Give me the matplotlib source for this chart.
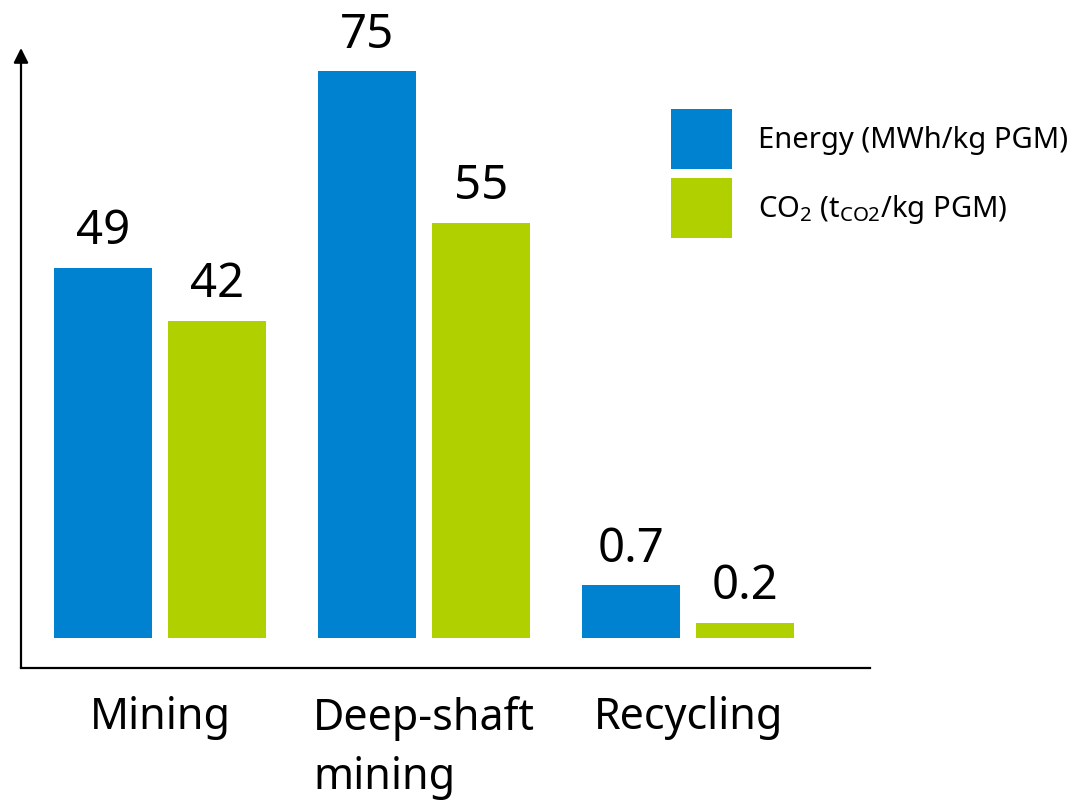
import numpy as np
import matplotlib.pyplot as plt

plt.rcParams['font.family'] = ['Noto Sans', 'DejaVu Sans']
plt.rcParams['mathtext.fontset'] = 'custom'
plt.rcParams['mathtext.rm'] = 'Noto Sans'
plt.rcParams['mathtext.it'] = 'Noto Sans'

# --- data ---
categories = ['Mining', 'Deep-shaft\nmining', 'Recycling']
energy_heights = [49, 75, 7]       # bar heights as drawn in the picture
co2_heights = [42, 55, 2]
energy_labels = ['49', '75', '0.7']
co2_labels = ['42', '55', '0.2']
series_names = ['Energy (MWh/kg PGM)', r'CO$_2$ (t$_{\mathrm{CO2}}$/kg PGM)']

blue = '#0082D1'
green = '#B0D000'

W, H = 1083, 802
fig = plt.figure(figsize=(W / 100, H / 100), dpi=100)
ax = fig.add_axes([21 / W, (H - 668) / H, (870 - 21) / W, (668 - 48) / H])

x = np.arange(len(categories))
bw = 0.37
off = 0.216
b1 = ax.bar(x - off, energy_heights, bw, color=blue, label=series_names[0])
b2 = ax.bar(x + off, co2_heights, bw, color=green, label=series_names[1])

for bars, labels in [(b1, energy_labels), (b2, co2_labels)]:
    for rect, lab in zip(bars, labels):
        ax.annotate(lab, (rect.get_x() + rect.get_width() / 2, rect.get_height()),
                    xytext=(0, 9), textcoords='offset points',
                    ha='center', va='bottom', fontsize=34)

ax.set_xlim(-0.527, 2.689)
ax.set_ylim(-3.97, 78.1)
ax.set_xticks([])
ax.set_yticks([])
for s in ['top', 'right', 'left']:
    ax.spines[s].set_visible(False)
ax.spines['bottom'].set_linewidth(1.6)

# y axis with arrow head
ax.annotate('', xy=(0, 1), xytext=(0, 0), xycoords='axes fraction',
            arrowprops=dict(arrowstyle='-|>', lw=1.6, color='black',
                            mutation_scale=22, shrinkA=0, shrinkB=0))

# category labels under the axis (second line left-aligned like the original)
for xi, cat in zip(x, categories):
    ax.annotate(cat, (xi, 0), xycoords=('data', 'axes fraction'),
                xytext=(0, -20), textcoords='offset points',
                ha='center', va='top', fontsize=31, linespacing=1.45,
                multialignment='left')

leg = fig.legend(loc='upper left', bbox_to_anchor=(671 / W, 1 - 109 / H),
                 frameon=False, fontsize=21, handlelength=2.09, handleheight=2.79,
                 handletextpad=0.89, labelspacing=0.31, borderpad=0, borderaxespad=0)

fig.savefig('out.png', dpi=100)
